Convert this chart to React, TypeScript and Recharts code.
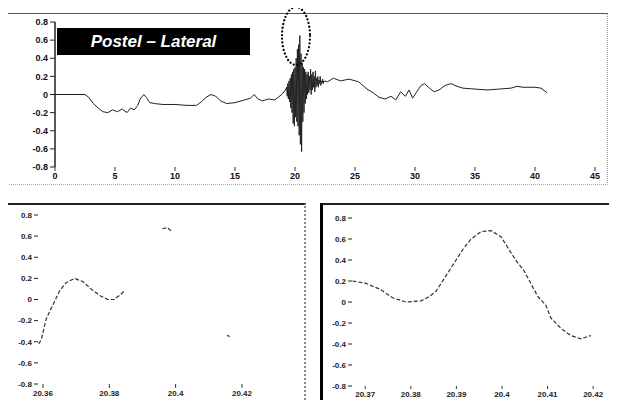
import React from 'react';
import { LineChart, Line, XAxis, YAxis } from 'recharts';

// top panel: whole trace (time s, value)
const baseTimesA = [0, 1, 2, 2.5, 2.8, 3.2, 3.6, 4.0, 4.4, 4.8, 5.2, 5.6, 6.0, 6.3, 6.6, 6.9, 7.1, 7.4, 7.6, 7.9, 8.3, 9, 10, 11, 11.8, 12.2, 12.6, 13, 13.4, 13.8, 14.3, 15, 15.8, 16.3, 16.6, 16.9, 17.3, 17.8, 18.3, 18.6, 18.9, 19.2];
const baseValuesA = [0, 0, 0, 0, -0.03, -0.1, -0.15, -0.19, -0.2, -0.17, -0.19, -0.16, -0.2, -0.15, -0.17, -0.12, -0.05, 0, -0.03, -0.09, -0.1, -0.11, -0.11, -0.12, -0.12, -0.08, -0.03, 0, -0.02, -0.07, -0.1, -0.09, -0.06, -0.04, 0, -0.05, -0.07, -0.05, -0.06, -0.03, 0, 0.05];

// burst samples every 0.05 s from 19.3 s
const burstStart = 19.3;
const burstStep = 0.05;
const burstValues = [
  0.08, -0.02, 0.12, -0.05, 0.15, -0.08, 0.18, -0.15, 0.22, -0.2,
  0.25, -0.32, 0.28, -0.35, 0.3, -0.25, 0.4, -0.3, 0.5, -0.35,
  0.55, -0.45, 0.65, -0.55, 0.45, -0.63, 0.35, -0.3, 0.3, -0.2,
  0.28, -0.1, 0.25, -0.05, 0.22, 0.0, 0.25, 0.02, 0.2, 0.05,
  0.28, 0.0, 0.22, 0.05, 0.25, 0.08, 0.2, 0.03, 0.26, 0.08,
  0.18, 0.1, 0.2, 0.08, 0.16, 0.12, 0.2, 0.1, 0.15, 0.13,
  0.17, 0.12, 0.15, 0.14, 0.15,
];

const baseTimesB = [22.7, 23.2, 23.8, 24.5, 25.3, 26, 26.5, 27, 27.5, 28, 28.4, 28.8, 29.2, 29.5, 29.8, 30.1, 30.5, 30.8, 31.2, 31.6, 32, 32.5, 33, 33.5, 34, 35, 36, 37, 38, 38.5, 39, 40, 40.5, 41];
const baseValuesB = [0.14, 0.18, 0.15, 0.17, 0.14, 0.06, 0.02, -0.03, -0.05, -0.02, -0.06, 0.03, -0.02, 0.05, -0.04, 0.02, 0.1, 0.12, 0.07, 0.03, 0.05, 0.1, 0.12, 0.09, 0.07, 0.06, 0.05, 0.06, 0.07, 0.09, 0.08, 0.08, 0.07, 0.02];

const topTicksX = [0, 5, 10, 15, 20, 25, 30, 35, 40, 45];
const ampTicks = [-0.8, -0.6, -0.4, -0.2, 0, 0.2, 0.4, 0.6, 0.8];

// zoom panels (null = gap in the trace)
const leftTimes = [20.3587, 20.3595, 20.361, 20.363, 20.365, 20.367, 20.3695, 20.372, 20.3745, 20.377, 20.3795, 20.3815, 20.3835, 20.3845, 20.39, 20.396, 20.3975, 20.399, 20.405, 20.4155, 20.4163];
const leftValues = [-0.42, -0.38, -0.18, -0.05, 0.08, 0.16, 0.2, 0.17, 0.1, 0.04, 0.0, 0.0, 0.05, 0.08, null, 0.67, 0.68, 0.64, null, -0.34, -0.35];
const leftTicksX = [20.36, 20.38, 20.4, 20.42];

const rightTimes = [20.3672, 20.37, 20.3733, 20.376, 20.3789, 20.3822, 20.384, 20.3855, 20.3914, 20.3932, 20.3954, 20.3976, 20.3998, 20.403, 20.4048, 20.4079, 20.4096, 20.4107, 20.4129, 20.4151, 20.4173, 20.4195];
const rightValues = [0.2, 0.18, 0.12, 0.04, 0.0, 0.01, 0.05, 0.1, 0.5, 0.6, 0.67, 0.68, 0.62, 0.4, 0.3, 0.05, -0.03, -0.15, -0.25, -0.32, -0.35, -0.32];
const rightTicksX = [20.37, 20.38, 20.39, 20.4, 20.41, 20.42];

const topData = [
  ...baseTimesA.map((t, i) => ({ t, v: baseValuesA[i] })),
  ...burstValues.map((v, i) => ({ t: +(burstStart + i * burstStep).toFixed(2), v })),
  ...baseTimesB.map((t, i) => ({ t, v: baseValuesB[i] })),
];
const leftData = leftTimes.map((t, i) => ({ t, v: leftValues[i] }));
const rightData = rightTimes.map((t, i) => ({ t, v: rightValues[i] }));

const FONT = '"Liberation Sans", Arial, sans-serif';
const ampFmt = (v: number) => (v === 0 ? '0' : v.toFixed(1));
const timeFmt = (v: number) => v.toFixed(2).replace(/0$/, '');

export default function App() {
  const tickStyle = { fontSize: 9, fontWeight: 700, fill: '#111', fontFamily: FONT };
  const smallTick = { fontSize: 8, fontWeight: 700, fill: '#222', fontFamily: FONT };
  return (
    <div style={{ position: 'relative', width: 617, height: 408, margin: -8, background: '#fff', overflow: 'hidden' }}>
      {/* top panel */}
      <div style={{ position: 'absolute', left: 5, top: 13, width: 600, height: 170, borderLeft: '2px solid #222', borderTop: '1px solid #555', borderRight: '1px dotted #999', borderBottom: '1px dotted #aaa' }}>
        <LineChart width={600} height={170} data={topData} margin={{ top: 8, right: 12, bottom: 0, left: 0 }}>
          <XAxis dataKey="t" type="number" domain={[0, 45]} ticks={topTicksX} axisLine={false} tickSize={4} tickLine={{ stroke: '#333' }} tick={tickStyle} height={17} interval={0} />
          <YAxis type="number" domain={[-0.8, 0.8]} ticks={ampTicks} tickFormatter={ampFmt} width={48} axisLine={{ stroke: '#222', strokeWidth: 1.5 }} tickLine={{ stroke: '#222' }} tickSize={5} tick={tickStyle} interval={0} />
          <Line dataKey="v" stroke="#222" strokeWidth={1} dot={false} isAnimationActive={false} />
        </LineChart>
      </div>
      <div style={{ position: 'absolute', left: 57, top: 28, width: 193, height: 27, background: '#000', color: '#fff', fontFamily: FONT, fontStyle: 'italic', fontWeight: 700, fontSize: 17, lineHeight: '27px', textAlign: 'center' }}>
        Postel – Lateral
      </div>
      <svg style={{ position: 'absolute', left: 0, top: 0 }} width={617} height={100}>
        <ellipse cx={296} cy={36} rx={14} ry={29} fill="none" stroke="#000" strokeWidth={2.2} strokeDasharray="0.1 3.6" strokeLinecap="round" />
      </svg>

      {/* bottom left zoom */}
      <div style={{ position: 'absolute', left: 5, top: 203, width: 296, height: 199, borderLeft: '3px solid #000', borderTop: '2px solid #222', borderBottom: '3px solid #000', borderRight: '2px dotted #888' }}>
        <LineChart width={296} height={197} data={leftData} margin={{ top: 10, right: 4, bottom: 0, left: 0 }}>
          <XAxis dataKey="t" type="number" domain={[20.3585, 20.4375]} ticks={leftTicksX} tickFormatter={timeFmt} axisLine={false} tickSize={4} tickLine={{ stroke: '#333' }} tick={smallTick} height={18} interval={0} allowDataOverflow />
          <YAxis type="number" domain={[-0.8, 0.8]} ticks={ampTicks} tickFormatter={ampFmt} width={30} axisLine={false} tickLine={{ stroke: '#222' }} tickSize={4} tick={smallTick} interval={0} />
          <Line dataKey="v" stroke="#333" strokeWidth={1.2} strokeDasharray="4 2" dot={false} connectNulls={false} isAnimationActive={false} />
        </LineChart>
      </div>

      {/* bottom right zoom */}
      <div style={{ position: 'absolute', left: 320, top: 203, width: 289, height: 201, borderLeft: '3px solid #000', borderTop: '2px solid #222', borderBottom: '1px dotted #666', borderRight: '2px dotted #888' }}>
        <LineChart width={289} height={199} data={rightData} margin={{ top: 13, right: 7, bottom: 0, left: 0 }}>
          <XAxis dataKey="t" type="number" domain={[20.3671, 20.4226]} ticks={rightTicksX} tickFormatter={timeFmt} axisLine={false} tickSize={3} tickLine={{ stroke: '#333' }} tick={smallTick} height={18} interval={0} allowDataOverflow />
          <YAxis type="number" domain={[-0.8, 0.8]} ticks={ampTicks} tickFormatter={ampFmt} width={29} axisLine={false} tickLine={{ stroke: '#222' }} tickSize={4} tick={smallTick} interval={0} />
          <Line dataKey="v" stroke="#333" strokeWidth={1.2} strokeDasharray="4 2" dot={false} isAnimationActive={false} />
        </LineChart>
      </div>
    </div>
  );
}
